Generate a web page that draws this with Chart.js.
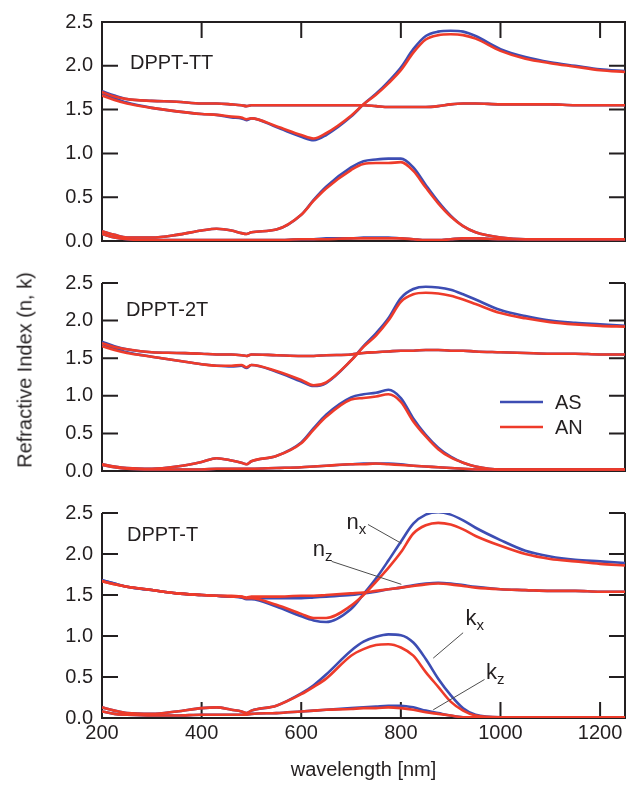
<!DOCTYPE html>
<html>
<head>
<meta charset="utf-8">
<script src="https://cdn.jsdelivr.net/npm/chart.js@4.4.1/dist/chart.umd.min.js"></script>
<style>
  html, body { margin: 0; padding: 0; background: #fff; }
  #wrap { position: relative; width: 628px; height: 785px; overflow: hidden;
          font-family: "Liberation Sans", Arial, sans-serif; color: #231f20; }
  canvas { position: absolute; left: 0; }
  #ytitle { position: absolute; left: 25px; top: 370px; font-size: 20px; white-space: nowrap;
            transform: translate(-50%, -50%) rotate(-90deg); }
</style>
</head>
<body>
<div id="wrap">
  <canvas id="pTT" width="628" height="262" style="top:0px"></canvas>
  <canvas id="p2T" width="628" height="230" style="top:262px"></canvas>
  <canvas id="pT" width="628" height="293" style="top:492px"></canvas>
  <div id="ytitle">Refractive Index (n, k)</div>
</div>
<script>
// wavelength grid [nm]
const W = [200, 225, 250, 300, 350, 400, 430, 460, 480, 490, 500, 550, 600, 625, 650,
           700, 725, 750, 775, 800, 825, 850, 875, 900, 925, 950, 1000, 1050, 1100, 1150, 1200, 1250];

// DPPT-TT
const tt_nx_AN = [1.66,1.61,1.57,1.52,1.48,1.45,1.44,1.42,1.41,1.39,1.40,1.31,1.21,1.17,1.23,1.43,1.56,1.67,1.80,1.95,2.15,2.30,2.35,2.36,2.35,2.31,2.17,2.08,2.03,1.99,1.95,1.93];
const tt_nx_AS = [1.69,1.63,1.58,1.52,1.48,1.45,1.44,1.41,1.40,1.38,1.40,1.30,1.19,1.15,1.21,1.42,1.56,1.68,1.82,1.98,2.19,2.34,2.39,2.40,2.39,2.34,2.19,2.10,2.04,2.00,1.96,1.94];
const tt_nz_AN = [1.70,1.65,1.62,1.60,1.59,1.57,1.57,1.56,1.55,1.54,1.55,1.55,1.55,1.55,1.55,1.55,1.55,1.54,1.53,1.53,1.53,1.53,1.54,1.56,1.57,1.57,1.56,1.56,1.56,1.55,1.55,1.55];
const tt_nz_AS = [1.71,1.66,1.62,1.60,1.59,1.57,1.57,1.56,1.55,1.54,1.55,1.55,1.55,1.55,1.55,1.55,1.55,1.54,1.53,1.53,1.53,1.53,1.54,1.56,1.57,1.57,1.56,1.56,1.56,1.55,1.55,1.55];
const tt_kx_AN = [0.11,0.07,0.04,0.04,0.07,0.12,0.14,0.12,0.09,0.08,0.10,0.13,0.30,0.46,0.60,0.81,0.88,0.89,0.89,0.90,0.80,0.61,0.43,0.28,0.17,0.10,0.04,0.02,0.02,0.02,0.02,0.02];
const tt_kx_AS = [0.11,0.07,0.04,0.04,0.07,0.12,0.14,0.12,0.09,0.08,0.10,0.13,0.30,0.47,0.62,0.84,0.91,0.93,0.94,0.94,0.84,0.64,0.45,0.29,0.17,0.10,0.04,0.02,0.02,0.02,0.02,0.02];
const tt_kz_AN = [0.08,0.04,0.02,0.01,0.01,0.01,0.01,0.01,0.01,0.01,0.01,0.01,0.02,0.02,0.02,0.03,0.03,0.03,0.03,0.03,0.02,0.01,0.01,0.02,0.03,0.03,0.02,0.02,0.02,0.02,0.02,0.02];
const tt_kz_AS = [0.08,0.04,0.02,0.01,0.01,0.01,0.01,0.01,0.01,0.01,0.01,0.01,0.02,0.02,0.03,0.03,0.04,0.04,0.04,0.03,0.02,0.01,0.01,0.02,0.03,0.03,0.02,0.02,0.02,0.02,0.02,0.02];

// DPPT-2T
const t2_nx_AN = [1.66,1.61,1.57,1.52,1.47,1.42,1.40,1.40,1.41,1.38,1.41,1.33,1.21,1.14,1.18,1.47,1.65,1.80,2.00,2.25,2.35,2.37,2.36,2.33,2.28,2.22,2.10,2.03,1.98,1.95,1.93,1.92];
const t2_nx_AS = [1.69,1.63,1.58,1.52,1.47,1.42,1.40,1.39,1.40,1.37,1.41,1.32,1.19,1.13,1.17,1.47,1.66,1.83,2.03,2.30,2.42,2.45,2.44,2.41,2.35,2.28,2.14,2.06,2.00,1.97,1.95,1.93];
const t2_nz_AN = [1.70,1.65,1.62,1.58,1.57,1.56,1.55,1.55,1.54,1.53,1.55,1.54,1.53,1.53,1.54,1.55,1.57,1.58,1.59,1.60,1.60,1.61,1.61,1.60,1.60,1.59,1.58,1.57,1.56,1.56,1.55,1.55];
const t2_nz_AS = [1.72,1.66,1.62,1.58,1.57,1.56,1.55,1.55,1.54,1.53,1.55,1.54,1.53,1.53,1.54,1.55,1.57,1.58,1.59,1.60,1.60,1.61,1.61,1.60,1.60,1.59,1.58,1.57,1.56,1.56,1.55,1.55];
const t2_kx_AN = [0.09,0.06,0.04,0.03,0.06,0.12,0.17,0.14,0.11,0.09,0.13,0.20,0.37,0.55,0.72,0.95,0.97,0.99,1.02,0.92,0.66,0.46,0.29,0.18,0.11,0.06,0.02,0.02,0.02,0.02,0.02,0.02];
const t2_kx_AS = [0.09,0.06,0.04,0.03,0.06,0.12,0.17,0.14,0.11,0.09,0.13,0.20,0.38,0.57,0.75,0.98,1.02,1.04,1.08,0.97,0.70,0.48,0.31,0.19,0.11,0.06,0.02,0.02,0.02,0.02,0.02,0.02];
const t2_kz_AN = [0.08,0.05,0.03,0.02,0.02,0.02,0.03,0.03,0.03,0.03,0.03,0.04,0.05,0.06,0.07,0.09,0.09,0.10,0.09,0.08,0.07,0.06,0.05,0.04,0.03,0.02,0.02,0.02,0.02,0.02,0.02,0.02];
const t2_kz_AS = [0.08,0.05,0.03,0.02,0.02,0.02,0.03,0.03,0.03,0.03,0.03,0.04,0.05,0.06,0.07,0.09,0.10,0.10,0.10,0.09,0.07,0.06,0.05,0.04,0.03,0.02,0.02,0.02,0.02,0.02,0.02,0.02];

// DPPT-T
const t1_nx_AN = [1.67,1.63,1.60,1.56,1.52,1.50,1.49,1.48,1.48,1.46,1.46,1.38,1.27,1.22,1.22,1.37,1.50,1.66,1.83,2.02,2.25,2.35,2.38,2.36,2.30,2.22,2.10,2.00,1.94,1.91,1.88,1.86];
const t1_nx_AS = [1.68,1.64,1.60,1.56,1.52,1.50,1.49,1.48,1.47,1.45,1.45,1.36,1.24,1.19,1.17,1.33,1.51,1.70,1.92,2.15,2.37,2.48,2.51,2.48,2.41,2.32,2.17,2.04,1.97,1.93,1.91,1.89];
const t1_nz_AN = [1.67,1.63,1.60,1.56,1.52,1.50,1.49,1.49,1.48,1.47,1.48,1.48,1.49,1.49,1.50,1.52,1.53,1.55,1.57,1.59,1.61,1.63,1.64,1.63,1.61,1.59,1.57,1.56,1.55,1.55,1.54,1.54];
const t1_nz_AS = [1.68,1.64,1.60,1.56,1.52,1.50,1.49,1.48,1.47,1.46,1.46,1.46,1.46,1.47,1.48,1.50,1.52,1.54,1.57,1.59,1.62,1.64,1.65,1.64,1.62,1.60,1.57,1.56,1.55,1.55,1.54,1.54];
const t1_kx_AN = [0.13,0.09,0.06,0.05,0.08,0.12,0.13,0.10,0.08,0.06,0.09,0.15,0.29,0.38,0.48,0.76,0.84,0.89,0.90,0.86,0.76,0.56,0.38,0.20,0.09,0.03,0.01,0.01,0.01,0.01,0.01,0.01];
const t1_kx_AS = [0.13,0.09,0.06,0.05,0.08,0.12,0.13,0.10,0.08,0.06,0.09,0.15,0.30,0.40,0.53,0.82,0.93,0.99,1.02,1.01,0.92,0.72,0.48,0.28,0.12,0.04,0.01,0.01,0.01,0.01,0.01,0.01];
const t1_kz_AN = [0.08,0.05,0.04,0.03,0.03,0.04,0.04,0.04,0.04,0.04,0.05,0.06,0.08,0.09,0.10,0.11,0.12,0.12,0.13,0.12,0.10,0.07,0.05,0.03,0.01,0.01,0.00,0.00,0.00,0.00,0.00,0.00];
const t1_kz_AS = [0.08,0.05,0.04,0.03,0.03,0.04,0.04,0.04,0.04,0.04,0.05,0.06,0.08,0.09,0.10,0.12,0.13,0.14,0.15,0.15,0.13,0.09,0.06,0.03,0.01,0.01,0.00,0.00,0.00,0.00,0.00,0.00];

const Y_TICKS = [0, 0.5, 1.0, 1.5, 2.0, 2.5];
const X_TICKS = [200, 400, 600, 800, 1000, 1200];

const BLUE = "#3d4db3";
const RED = "#ee3b2a";
const INK = "#231f20";
const FONT = "'Liberation Sans', Arial, sans-serif";
const TICK_LEN = 16;

function pts(arr) {
    return W.map((w, i) => ({ x: w, y: arr[i] }));
}

function line(arr, color) {
    return {
        data: pts(arr),
        borderColor: color,
        borderWidth: 2.6,
        pointRadius: 0,
        fill: false,
        cubicInterpolationMode: "monotone",
    };
}

// AN (red) first so that it is drawn above AS (blue)
function panelSets(s) {
    return [
        line(s.nx_AN, RED), line(s.nz_AN, RED), line(s.kx_AN, RED), line(s.kz_AN, RED),
        line(s.nx_AS, BLUE), line(s.nz_AS, BLUE), line(s.kx_AS, BLUE), line(s.kz_AS, BLUE),
    ];
}

// box, inward ticks, panel label, legend and leader lines
const frame = {
    id: "frame",
    beforeDatasetsDraw(chart, args, o) {
        const { ctx, chartArea: a, scales: { x, y } } = chart;
        ctx.save();
        ctx.strokeStyle = INK;
        ctx.lineWidth = 2;
        ctx.beginPath();
        ctx.moveTo(a.left, a.top); ctx.lineTo(a.left, a.bottom);
        ctx.moveTo(a.right, a.top); ctx.lineTo(a.right, a.bottom);
        ctx.moveTo(a.left - 1, a.bottom); ctx.lineTo(a.right + 1, a.bottom);
        if (o.top) { ctx.moveTo(a.left - 1, a.top); ctx.lineTo(a.right + 1, a.top); }
        Y_TICKS.forEach(v => {
            const py = y.getPixelForValue(v);
            ctx.moveTo(a.left, py); ctx.lineTo(a.left + TICK_LEN, py);
            ctx.moveTo(a.right, py); ctx.lineTo(a.right - TICK_LEN, py);
        });
        X_TICKS.forEach(v => {
            const px = x.getPixelForValue(v);
            if (o.top) { ctx.moveTo(px, a.top); ctx.lineTo(px, a.top + TICK_LEN); }
            if (o.bottom) { ctx.moveTo(px, a.bottom); ctx.lineTo(px, a.bottom - TICK_LEN); }
        });
        ctx.stroke();
        ctx.restore();
    },
    afterDatasetsDraw(chart, args, o) {
        const { ctx, chartArea: a, scales: { x, y } } = chart;
        ctx.save();
        ctx.fillStyle = INK;
        ctx.font = `20px ${FONT}`;
        ctx.textBaseline = "alphabetic";
        if (o.label) ctx.fillText(o.label, o.labelX, a.top + o.labelDy);

        (o.legend || []).forEach(item => {
            const ly = a.top + item.dy;
            ctx.strokeStyle = item.color;
            ctx.lineWidth = 2.4;
            ctx.beginPath(); ctx.moveTo(500, ly); ctx.lineTo(543, ly); ctx.stroke();
            ctx.font = `20px ${FONT}`;
            ctx.textBaseline = "middle";
            ctx.fillText(item.text, 555, ly + 1);
        });

        (o.notes || []).forEach(n => {
            ctx.strokeStyle = "#4d4d4d";
            ctx.lineWidth = 1;
            ctx.beginPath();
            ctx.moveTo(x.getPixelForValue(n.from[0]), y.getPixelForValue(n.from[1]));
            ctx.lineTo(x.getPixelForValue(n.to[0]), y.getPixelForValue(n.to[1]));
            ctx.stroke();
            const px = x.getPixelForValue(n.at[0]);
            const py = y.getPixelForValue(n.at[1]);
            ctx.textBaseline = "alphabetic";
            ctx.font = `22px ${FONT}`;
            ctx.fillText(n.main, px, py);
            const w = ctx.measureText(n.main).width;
            ctx.font = `15px ${FONT}`;
            ctx.fillText(n.sub, px + w, py + 5);
        });
        ctx.restore();
    },
};

function makePanel(id, sets, o) {
    const font = { family: FONT, size: 20 };
    return new Chart(document.getElementById(id), {
        type: "line",
        data: { datasets: sets },
        options: {
            responsive: false,
            animation: false,
            layout: { padding: { top: o.padTop, right: 3, bottom: 0, left: 0 } },
            plugins: {
                legend: { display: false },
                tooltip: { enabled: false },
                frame: o.frame,
            },
            scales: {
                x: {
                    type: "linear",
                    min: 200,
                    max: 1250,
                    grid: { display: false, drawTicks: false },
                    border: { display: false },
                    ticks: {
                        display: o.showX,
                        stepSize: 200,
                        includeBounds: false,
                        autoSkip: false,
                        maxRotation: 0,
                        padding: 3,
                        font,
                        color: INK,
                        callback: v => String(v),
                    },
                    title: {
                        display: o.showX,
                        text: "wavelength [nm]",
                        font,
                        color: INK,
                        padding: { top: 0, bottom: 3 },
                    },
                    afterFit(s) { s.height = o.bottomSpace; },
                },
                y: {
                    min: 0,
                    max: 2.5,
                    grid: { display: false, drawTicks: false },
                    border: { display: false },
                    ticks: {
                        stepSize: 0.5,
                        padding: 9,
                        font,
                        color: INK,
                        callback: v => v.toFixed(1),
                    },
                    afterFit(s) { s.width = 102; },
                },
            },
        },
        plugins: [frame],
    });
}

makePanel("pTT", panelSets({
    nx_AN: tt_nx_AN, nx_AS: tt_nx_AS, nz_AN: tt_nz_AN, nz_AS: tt_nz_AS,
    kx_AN: tt_kx_AN, kx_AS: tt_kx_AS, kz_AN: tt_kz_AN, kz_AS: tt_kz_AS,
}), {
    padTop: 22, bottomSpace: 5, showX: false,
    frame: { top: true, bottom: false, label: "DPPT-TT", labelX: 130, labelDy: 47 },
});

makePanel("p2T", panelSets({
    nx_AN: t2_nx_AN, nx_AS: t2_nx_AS, nz_AN: t2_nz_AN, nz_AS: t2_nz_AS,
    kx_AN: t2_kx_AN, kx_AS: t2_kx_AS, kz_AN: t2_kz_AN, kz_AS: t2_kz_AS,
}), {
    padTop: 17, bottomSpace: 6, showX: false,
    frame: {
        top: false, bottom: false, label: "DPPT-2T", labelX: 126, labelDy: 33,
        legend: [
            { text: "AS", color: BLUE, dy: 119 },
            { text: "AN", color: RED, dy: 144 },
        ],
    },
});

makePanel("pT", panelSets({
    nx_AN: t1_nx_AN, nx_AS: t1_nx_AS, nz_AN: t1_nz_AN, nz_AS: t1_nz_AS,
    kx_AN: t1_kx_AN, kx_AS: t1_kx_AS, kz_AN: t1_kz_AN, kz_AS: t1_kz_AS,
}), {
    padTop: 17, bottomSpace: 67, showX: true,
    frame: {
        top: false, bottom: true, label: "DPPT-T", labelX: 127, labelDy: 28,
        notes: [
            { main: "n", sub: "x", at: [691, 2.30], from: [734, 2.36], to: [801, 2.13] },
            { main: "n", sub: "z", at: [623, 1.97], from: [661, 1.91], to: [801, 1.63] },
            { main: "k", sub: "x", at: [930, 1.14], from: [925, 1.04], to: [865, 0.73] },
            { main: "k", sub: "z", at: [971, 0.475], from: [968, 0.47], to: [865, 0.10] },
        ],
    },
});
</script>
</body>
</html>
